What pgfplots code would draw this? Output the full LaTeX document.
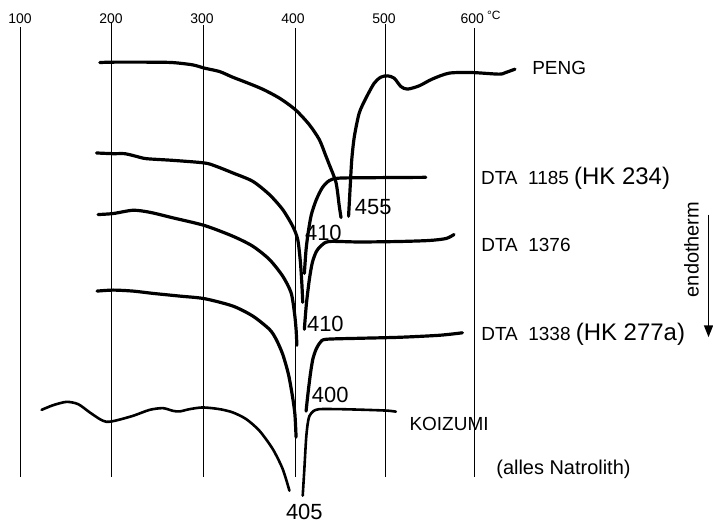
\documentclass[border=0pt]{standalone}
\usepackage{pgfplots}
\pgfplotsset{compat=1.18}
\usepackage{fontspec}
\setmainfont{Liberation Sans}
\usetikzlibrary{arrows.meta}
\begin{document}
\begin{tikzpicture}
\begin{axis}[
  scale only axis, width=356.5pt, height=261pt,
  xmin=78, xmax=860, ymin=0, ymax=522, y dir=reverse,
  hide axis, clip=false,
  curve/.style={black, line width=1.6pt, smooth, tension=0.45, line cap=round, line join=round},
  grid line/.style={black, line width=0.5pt},
]
\path (rel axis cs:0,0) rectangle (rel axis cs:1,1);
% temperature grid lines
\addplot[grid line] coordinates {(100,27) (100,478)};
\addplot[grid line] coordinates {(200.8,23) (200.8,478)};
\addplot[grid line] coordinates {(302,25) (302,478)};
\addplot[grid line] coordinates {(402.7,28) (402.7,478)};
\addplot[grid line] coordinates {(501.4,24) (501.4,478)};
\addplot[grid line] coordinates {(600,28) (600,478)};
% PENG
\addplot[curve] coordinates {(187.7,62.7) (200.5,62.3) (242.5,62.3) (267.7,62.7) (289.7,65) (302.8,68.3) (319.3,71.7) (333.6,77.3) (348.9,82.7) (366.5,89.3) (385.1,98.3) (402.7,110) (418.0,125) (429.0,140) (435.6,155) (439.9,165) (447.3,183) (450.9,206.7) (452.8,218)};
\addplot[curve] coordinates {(461.1,216.7) (463.0,185) (464.6,160) (467.4,137) (472.8,113.3) (480.2,98.3) (489.3,83.3) (496.6,77.3) (503.9,76) (511.2,78.3) (518.6,86.7) (525.8,89.3) (538.7,86) (552.9,79.3) (571.6,73.3) (596.8,72.7) (626.4,74.3) (633.7,72.7) (644.0,69.3)};
% DTA 1185
\addplot[curve] coordinates {(184.1,153.3) (202.3,154) (215.1,154) (227.9,156.7) (238.9,159) (268.1,160.7) (302.8,163.3) (315.7,166.7) (333.9,173.3) (355.8,181.7) (374.1,195) (388.7,210) (399.7,226.7) (405.2,240) (408.1,262) (409.8,285) (410.7,303)};
\addplot[curve] coordinates {(412.5,274) (414.4,250) (416.9,232) (420.2,215) (425.7,200) (432.3,188) (439.9,181) (450.9,178.5) (494.8,178) (546.0,177.7)};
% DTA 1376
\addplot[curve] coordinates {(185.8,215) (202.3,214) (224.2,210.7) (242.5,212.7) (268.1,218.3) (302.8,226) (333.9,236.7) (355.8,246.7) (374.1,260) (388.7,276.7) (397.9,293.3) (401.6,313.3) (403.4,330) (404.3,346)};
\addplot[curve] coordinates {(412.5,330) (414.7,305) (418.0,280) (421.3,263) (425.7,252) (431.2,246) (439.9,242) (472.8,242.5) (516.7,242) (549.6,241) (568.3,239) (577.0,235)};
% DTA 1338
\addplot[curve] coordinates {(184.7,291.7) (202.3,290.7) (224.2,291.7) (246.1,294) (275.4,296.7) (302.8,299.3) (333.9,306.7) (355.8,316.7) (374.1,330) (381.5,340) (388.7,355) (395.0,375) (399.4,397) (402.1,415) (403.4,438)};
\addplot[curve] coordinates {(414.4,412) (416.4,395) (419.1,375) (421.8,360) (425.4,350) (430.1,343) (436.3,340) (472.8,339) (516.7,338) (560.6,336) (586.2,333.5)};
% KOIZUMI
\addplot[curve, line width=1.3pt] coordinates {(123.7,410.7) (136.5,406) (151.2,402.7) (163.9,405) (176.7,413.3) (187.7,420) (195.0,422.7) (204.1,421.7) (224.2,416.7) (242.5,410.7) (257.1,409) (268.1,411.7) (275.4,412.3) (286.4,410) (301.0,408.3) (319.3,410) (333.9,413.3) (348.6,420) (363.2,431.7) (377.8,450) (388.7,470) (396.1,491.7)};
\addplot[curve, line width=1.3pt] coordinates {(410.7,496.7) (412.5,470) (414.4,440) (416.1,425) (418.0,417) (422.4,412) (429.0,410) (450.9,410) (480.2,410.7) (503.6,411.5) (513.1,412.5)};
% temperature labels
\node[font=\fontsize{7}{7}\selectfont] at (axis cs:100,19) {100};
\node[font=\fontsize{7}{7}\selectfont] at (axis cs:200,19) {200};
\node[font=\fontsize{7}{7}\selectfont] at (axis cs:300,19) {300};
\node[font=\fontsize{7}{7}\selectfont] at (axis cs:400,19) {400};
\node[font=\fontsize{7}{7}\selectfont] at (axis cs:500,19) {500};
\node[font=\fontsize{7}{7}\selectfont] at (axis cs:597,19) {600};
\node[font=\fontsize{6}{6}\selectfont, anchor=west, inner sep=0pt] at (axis cs:613,15) {°C};
% curve labels
\node[font=\fontsize{9.5}{9.5}\selectfont, anchor=west, inner sep=0pt] at (axis cs:662.6,68) {PENG};
\node[anchor=west, inner sep=0pt] at (axis cs:606.3,179) {\fontsize{9.5}{9.5}\selectfont DTA\ \ 1185 \fontsize{12}{12}\selectfont(HK 234)};
\node[font=\fontsize{9.5}{9.5}\selectfont, anchor=west, inner sep=0pt] at (axis cs:606.6,245) {DTA\ \ 1376};
\node[anchor=west, inner sep=0pt] at (axis cs:606.6,335) {\fontsize{9.5}{9.5}\selectfont DTA\ \ 1338 \fontsize{12}{12}\selectfont(HK 277a)};
\node[font=\fontsize{9.5}{9.5}\selectfont, anchor=west, inner sep=0pt] at (axis cs:527.7,425) {KOIZUMI};
\node[font=\fontsize{10}{10}\selectfont, anchor=west, inner sep=0pt] at (axis cs:623.1,470) {(alles Natrolith)};
% peak temperatures
\node[font=\fontsize{11}{11}\selectfont] at (axis cs:488.2,207) {455};
\node[font=\fontsize{11}{11}\selectfont] at (axis cs:433.4,233) {410};
\node[font=\fontsize{11}{11}\selectfont] at (axis cs:435.6,325) {410};
\node[font=\fontsize{11}{11}\selectfont] at (axis cs:441.0,396) {400};
\node[font=\fontsize{11}{11}\selectfont] at (axis cs:412.5,513) {405};
% endotherm arrow
\node[font=\fontsize{10}{10}\selectfont, rotate=90] at (axis cs:838.1,250) {endotherm};
\draw[line width=0.8pt, -{Triangle[length=6pt,width=4.5pt]}] (axis cs:856.7,215) -- (axis cs:856.7,338);
\end{axis}
\end{tikzpicture}
\end{document}
